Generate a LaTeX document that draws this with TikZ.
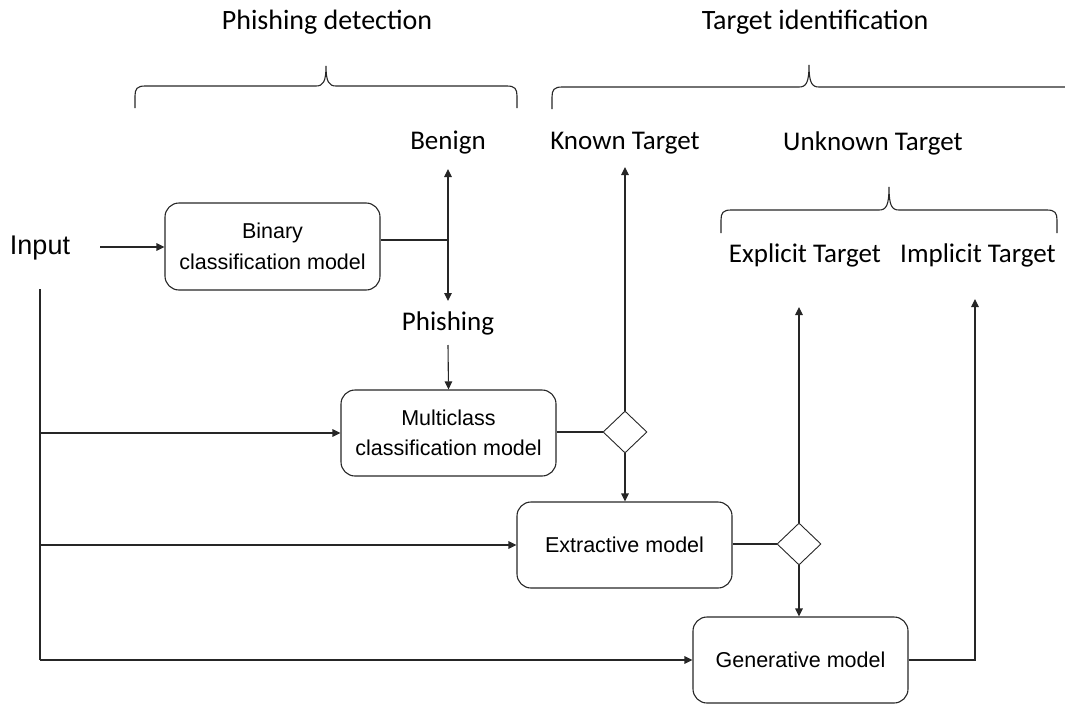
\documentclass[tikz,border=0pt]{standalone}
\usepackage{fontspec}
\setmainfont{Carlito}
\newfontfamily\arialfont{Liberation Sans}
\usetikzlibrary{arrows.meta,shapes.geometric}

\begin{document}
\begin{tikzpicture}[x=1pt,y=-1pt,
  line width=1.1pt,
  ln/.style={draw=black!85},
  arr/.style={ln,-{Triangle[length=8pt,width=7.5pt]}},
  model/.style={draw=black!85,rounded corners=14pt,minimum width=215pt,minimum height=86pt,
    inner sep=0pt,align=center,font=\arialfont\fontsize{21.5}{30.5}\selectfont},
  choice/.style={draw=black!85,diamond,minimum width=44pt,minimum height=42pt,inner sep=0pt,
    line width=0.9pt},
  lbl/.style={inner sep=0pt,font=\fontsize{27}{30}\selectfont},
  brace/.style={draw=black!85,line width=1.1pt}]

\useasboundingbox (0,0) rectangle (1065,704);

% group headings
\node[lbl,font=\fontsize{28}{30}\selectfont] (hdet) at (327,22) {Phishing detection};
\node[lbl,font=\fontsize{28}{30}\selectfont] (htgt) at (815,22) {Target identification};

% curly braces under the headings
\draw[brace] (135,108) -- (135,96) .. controls (135,89) and (137,86) .. (145,86)
  -- (316,86) .. controls (323,86) and (326,82) .. (326,66)
  .. controls (326,82) and (329,86) .. (336,86)
  -- (507,86) .. controls (515,86) and (517,89) .. (517,96) -- (517,108);
\draw[brace] (552,109) -- (552,97) .. controls (552,90) and (554,87) .. (562,87)
  -- (799,87) .. controls (806,87) and (809,83) .. (809,65)
  .. controls (809,83) and (812,87) .. (819,87) -- (1065,87);
\draw[brace] (721,233) -- (721,220) .. controls (721,213) and (723,210) .. (731,210)
  -- (879,210) .. controls (886,210) and (889,206) .. (889,187)
  .. controls (889,206) and (892,210) .. (899,210)
  -- (1047,210) .. controls (1055,210) and (1057,213) .. (1057,220) -- (1057,233);

% outcome labels
\node[lbl] (benign) at (448,143) {Benign};
\node[lbl] (known) at (625,143) {Known Target};
\node[lbl] (unknown) at (873,143) {Unknown Target};
\node[lbl] (explicit) at (805,255) {Explicit Target};
\node[lbl] (implicit) at (978,255) {Implicit Target};
\node[lbl] (phish) at (448,323) {Phishing};
\node[inner sep=0pt,font=\arialfont\fontsize{27}{30}\selectfont] (input) at (40,248) {Input};

% models
\node[model,minimum height=87pt] (bin) at (272.5,246.5) {Binary\\classification model};
\node[model] (mc) at (448.5,433) {Multiclass\\classification model};
\node[model] (ext) at (624.5,545) {Extractive model};
\node[model] (gen) at (800.5,660) {Generative model};

% decision points
\node[choice] (d1) at (625,432) {};
\node[choice] (d2) at (799,544) {};

% free connector ends
\coordinate (inStart) at (100,247);
\coordinate (split) at (448,240);
\coordinate (benignTip) at (448,169);
\coordinate (phishTip) at (448,301);
\coordinate (phishOut) at (448,345);
\coordinate (knownTip) at (625,167);
\coordinate (explicitTip) at (799,307);
\coordinate (implicitTip) at (975,299);
\coordinate (trunkTop) at (40,289);
\coordinate (trunkBot) at (40,660);

% binary stage
\draw[arr] (inStart) -- (inStart -| bin.west);
\draw[ln] (bin.east |- split) -- (split);
\draw[arr] (split) -- (benignTip);
\draw[arr] (split) -- (phishTip);
\draw[arr] (phishOut) -- (mc.north);

% input trunk feeding the later models
\draw[ln] (trunkTop) -- (trunkBot);
\draw[arr] (trunkTop |- mc) -- (mc.west);
\draw[arr] (trunkTop |- ext) -- (ext.west);
\draw[arr] (trunkBot) -- (gen.west);

% multiclass stage
\draw[ln] (mc.east |- d1) -- (d1.west);
\draw[arr] (d1.north) -- (knownTip);
\draw[arr] (d1.south) -- (d1.south |- ext.north);

% extractive stage
\draw[ln] (ext.east |- d2) -- (d2.west);
\draw[arr] (d2.north) -- (explicitTip);
\draw[arr] (d2.south) -- (d2.south |- gen.north);

% generative stage
\draw[arr] (gen.east) -- (gen.east -| implicitTip) -- (implicitTip);

\end{tikzpicture}
\end{document}
